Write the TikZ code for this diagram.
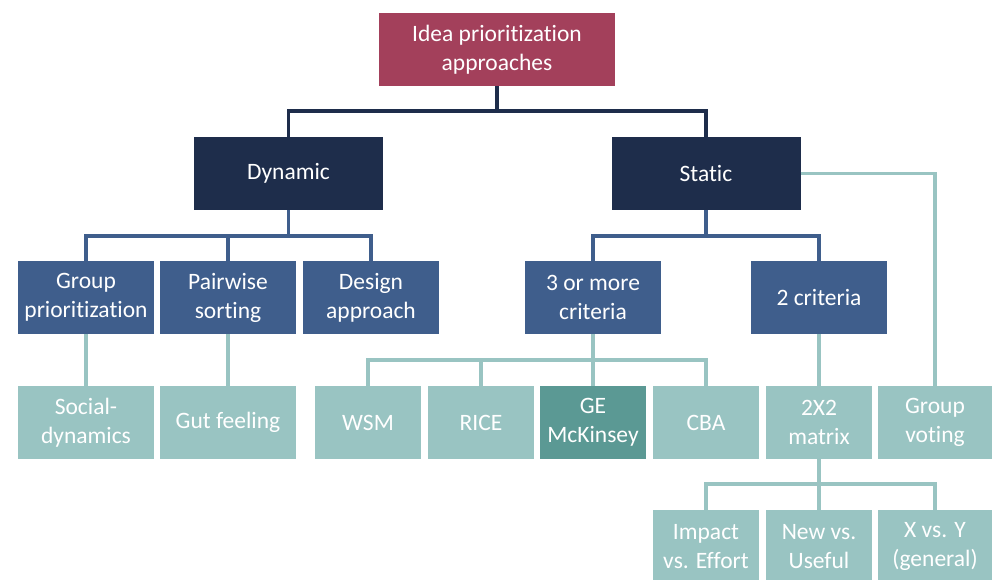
\documentclass[tikz,border=0pt]{standalone}
\usepackage{fontspec}
\setmainfont[Ligatures=NoCommon]{Carlito}
\definecolor{rootc}{HTML}{A3405B}
\definecolor{darkc}{HTML}{1E2D4B}
\definecolor{midc}{HTML}{3F5E8C}
\definecolor{lightc}{HTML}{99C4C2}
\definecolor{gec}{HTML}{5B9994}
\tikzset{
  box/.style={draw=none, text=white, align=center, inner sep=0pt,
    font=\fontsize{23.5}{29}\selectfont, minimum height=73pt},
  rootbox/.style={box, fill=rootc, minimum width=236pt},
  topbox/.style={box, fill=darkc, minimum width=189pt},
  midbox/.style={box, fill=midc, minimum width=136pt},
  leafbox/.style={box, fill=lightc, minimum width=106pt},
  wideleaf/.style={box, fill=lightc, minimum width=136pt},
  conn/.style={line width=3.4pt},
  darkline/.style={conn, draw=darkc},
  midline/.style={conn, draw=midc},
  lightline/.style={conn, draw=lightc},
}
\begin{document}
\begin{tikzpicture}[x=1pt,y=-1pt]
\useasboundingbox (0,0) rectangle (992,579);
% nodes
\node[rootbox] (root) at (497,49.5) {Idea prioritization\\approaches};
\node[topbox] (dyn) at (288.5,173.5) {Dynamic};
\node[topbox] (stat) at (706,173.5) {Static};
\node[midbox] (grp) at (86,297.5) {Group\\prioritization};
\node[midbox] (pair) at (228,297.5) {Pairwise\\sorting};
\node[midbox] (des) at (371,297.5) {Design\\approach};
\node[midbox] (three) at (593,297.5) {3 or more\\criteria};
\node[midbox] (two) at (819,297.5) {2 criteria};
\node[wideleaf] (soc) at (86,422.5) {Social-\\dynamics};
\node[wideleaf] (gut) at (228,422.5) {Gut feeling};
\node[leafbox] (wsm) at (368,422.5) {WSM};
\node[leafbox] (rice) at (481,422.5) {RICE};
\node[leafbox, fill=gec] (ge) at (593,422.5) {GE\\McKinsey};
\node[leafbox] (cba) at (706,422.5) {CBA};
\node[leafbox] (mat) at (819,422.5) {2X2\\matrix};
\node[leafbox, minimum width=114pt] (gv) at (935,422.5) {Group\\voting};
\node[leafbox] (imp) at (706,546.5) {Impact\\vs. Effort};
\node[leafbox] (new) at (819,546.5) {New vs.\\Useful};
\node[leafbox, minimum width=114pt] (xy) at (935,546.5) {X vs. Y\\(general)};
% connectors
\draw[darkline] (root.south) -- (root.south |- 0,111) -| (dyn.north);
\draw[darkline] (root.south) -- (root.south |- 0,111) -| (stat.north);
\draw[midline] (dyn.south) -- (dyn.south |- 0,236) -| (grp.north);
\draw[midline] (dyn.south) -- (dyn.south |- 0,236) -| (pair.north);
\draw[midline] (dyn.south) -- (dyn.south |- 0,236) -| (des.north);
\draw[midline] (stat.south) -- (stat.south |- 0,236) -| (three.north);
\draw[midline] (stat.south) -- (stat.south |- 0,236) -| (two.north);
\draw[lightline] (stat.east) -| (gv.north);
\draw[lightline] (grp.south) -- (soc.north);
\draw[lightline] (pair.south) -- (gut.north);
\draw[lightline] (two.south) -- (mat.north);
\draw[lightline] (three.south) -- (three.south |- 0,360) -| (wsm.north);
\draw[lightline] (three.south) -- (three.south |- 0,360) -| (rice.north);
\draw[lightline] (three.south) -- (ge.north);
\draw[lightline] (three.south) -- (three.south |- 0,360) -| (cba.north);
\draw[lightline] (mat.south) -- (mat.south |- 0,484) -| (imp.north);
\draw[lightline] (mat.south) -- (new.north);
\draw[lightline] (mat.south) -- (mat.south |- 0,484) -| (xy.north);
\end{tikzpicture}
\end{document}
